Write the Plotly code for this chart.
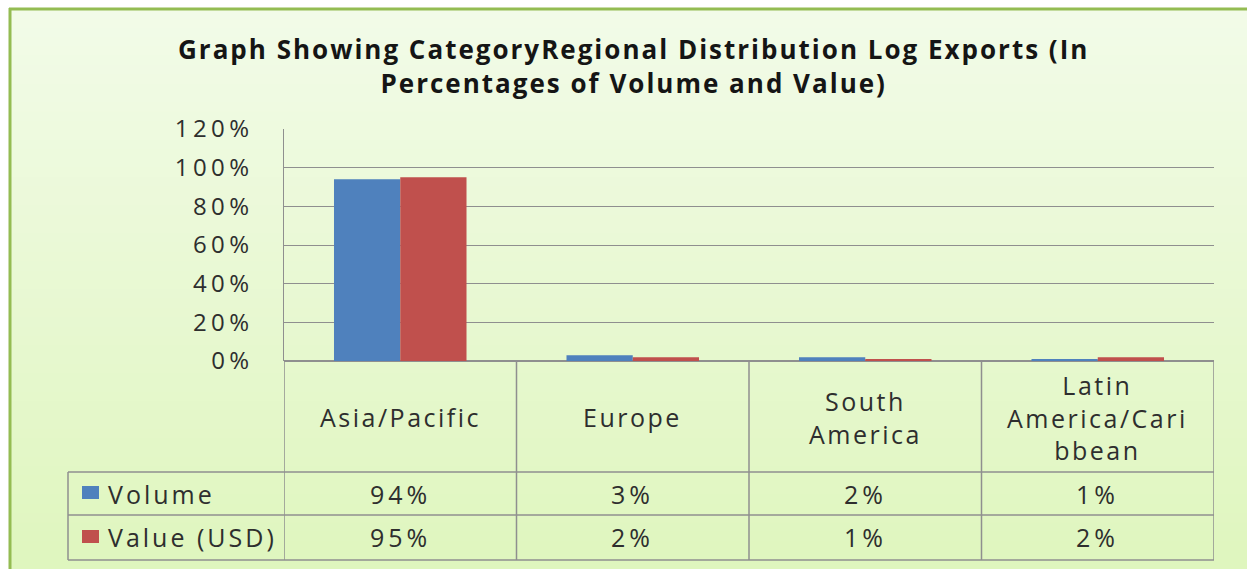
import plotly.graph_objects as go

# ---- data ----
categories = ["Asia/Pacific", "Europe", "South America", "Latin America/Caribbean"]
category_lines = [["Asia/Pacific"], ["Europe"], ["South", "America"], ["Latin", "America/Cari", "bbean"]]
series_names = ["Volume", "Value (USD)"]
volume = [94, 3, 2, 1]
value_usd = [95, 2, 1, 2]
y_ticks = [0, 20, 40, 60, 80, 100, 120]
title_lines = ["Graph Showing CategoryRegional Distribution Log Exports (In",
               "Percentages of Volume and Value)"]

# ---- styling ----
W, H = 1247, 569
BLUE = "#4f81bd"
RED = "#c0504d"
GRID = "#8f8f8f"
TXT = "#2e2e2e"
FONT = "Open Sans"


def px_x(p):
    return p / W


def px_y(p):
    return 1 - p / H


def ls(text, sp):
    return f'<span style="letter-spacing:{sp}px">{text}</span>'


plot_left, plot_right = 284, 1214
plot_top, plot_bottom = 129, 361
row1_top, row2_top, table_bottom = 472, 515, 560
table_left = 68

fig = go.Figure()
fig.add_trace(go.Bar(x=categories, y=volume, name=series_names[0], marker_color=BLUE,
                     marker_line_width=0))
fig.add_trace(go.Bar(x=categories, y=value_usd, name=series_names[1], marker_color=RED,
                     marker_line_width=0))

shapes = []
# background gradient (vertical), inside the green frame
top_c = (242, 251, 232)
bot_c = (223, 246, 190)
n = 60
y0px, y1px = 9, H
for i in range(n):
    t = i / (n - 1)
    c = tuple(int(round(top_c[k] + (bot_c[k] - top_c[k]) * t)) for k in range(3))
    a = y0px + (y1px - y0px) * i / n
    b = min(H, y0px + (y1px - y0px) * (i + 1) / n + 1)
    shapes.append(dict(type="rect", xref="paper", yref="paper", layer="below",
                       x0=px_x(10), x1=1, y0=px_y(b), y1=px_y(a),
                       line_width=0, fillcolor="rgb(%d,%d,%d)" % c))
# green frame (top and left edges visible)
FRAME = "#94bc52"
shapes.append(dict(type="line", xref="paper", yref="paper", layer="below",
                   x0=px_x(9), x1=1, y0=px_y(9), y1=px_y(9),
                   line=dict(color=FRAME, width=3)))
shapes.append(dict(type="line", xref="paper", yref="paper", layer="below",
                   x0=px_x(10), x1=px_x(10), y0=0, y1=px_y(8),
                   line=dict(color=FRAME, width=3)))

# table lines: column dividers at category boundaries
for i in range(len(categories) + 1):
    shapes.append(dict(type="line", xref="x", yref="paper",
                       x0=i - 0.5, x1=i - 0.5, y0=px_y(plot_bottom), y1=px_y(table_bottom),
                       line=dict(color=GRID, width=1.5)))
shapes.append(dict(type="line", xref="paper", yref="paper",
                   x0=px_x(table_left), x1=px_x(table_left),
                   y0=px_y(row1_top), y1=px_y(table_bottom),
                   line=dict(color=GRID, width=1.5)))
for yy in [row1_top, row2_top, table_bottom]:
    shapes.append(dict(type="line", xref="paper", yref="paper",
                       x0=px_x(table_left), x1=px_x(plot_right),
                       y0=px_y(yy), y1=px_y(yy),
                       line=dict(color=GRID, width=1.5)))
# legend keys
for col, (ya, yb) in zip([BLUE, RED], [(486, 499), (530, 543)]):
    shapes.append(dict(type="rect", xref="paper", yref="paper",
                       x0=px_x(82), x1=px_x(99), y0=px_y(yb), y1=px_y(ya),
                       line_width=0, fillcolor=col))

annotations = []
# title
annotations.append(dict(text="<br>".join("<b>" + ls(t, 2) + "</b>" for t in title_lines),
                        xref="paper", yref="paper", x=px_x(633), y=px_y(66),
                        xanchor="center", yanchor="middle", showarrow=False,
                        font=dict(family=FONT, size=26, color="#151515")))
# category header cells
for cat, lines in zip(categories, category_lines):
    annotations.append(dict(text="<br>".join(ls(t, 2.5) for t in lines),
                            xref="x", yref="paper", x=cat, y=px_y(417),
                            xanchor="center", yanchor="middle", showarrow=False,
                            font=dict(family=FONT, size=25, color=TXT)))
# value rows
for name, vals, yc in [(series_names[0], volume, 494), (series_names[1], value_usd, 537)]:
    annotations.append(dict(text=ls(name, 3), xref="paper", yref="paper", x=px_x(106), y=px_y(yc),
                            xanchor="left", yanchor="middle", showarrow=False,
                            font=dict(family=FONT, size=25, color=TXT)))
    for cat, v in zip(categories, vals):
        annotations.append(dict(text=ls(f"{v}%", 4), xref="x", yref="paper", x=cat, y=px_y(yc),
                                xanchor="center", yanchor="middle", showarrow=False,
                                font=dict(family=FONT, size=25, color=TXT)))

fig.update_layout(
    width=W, height=H,
    margin=dict(l=0, r=0, t=0, b=0, autoexpand=False),
    paper_bgcolor="white",
    plot_bgcolor="white",
    barmode="group",
    bargap=0.43,
    bargroupgap=0,
    showlegend=False,
    shapes=shapes,
    annotations=annotations,
    xaxis=dict(domain=[px_x(plot_left), px_x(plot_right)], range=[-0.5, 3.5],
               showticklabels=False, showgrid=False, zeroline=False, showline=False,
               fixedrange=True),
    yaxis=dict(domain=[px_y(plot_bottom), px_y(plot_top)], range=[0, 120],
               tickvals=y_ticks, ticktext=[ls(f"{t}%", 4.5) for t in y_ticks],
               showgrid=True, gridcolor=GRID, gridwidth=1,
               zeroline=True, zerolinecolor=GRID, zerolinewidth=1.5,
               showline=True, linecolor=GRID, linewidth=1.5, mirror=False,
               ticks="", ticklabelstandoff=24,
               tickfont=dict(family=FONT, size=24, color=TXT), fixedrange=True),
)

fig.write_html("out.html", config={"displayModeBar": False, "staticPlot": True},
               post_script="document.body.style.margin='0';document.body.style.overflow='hidden';")
